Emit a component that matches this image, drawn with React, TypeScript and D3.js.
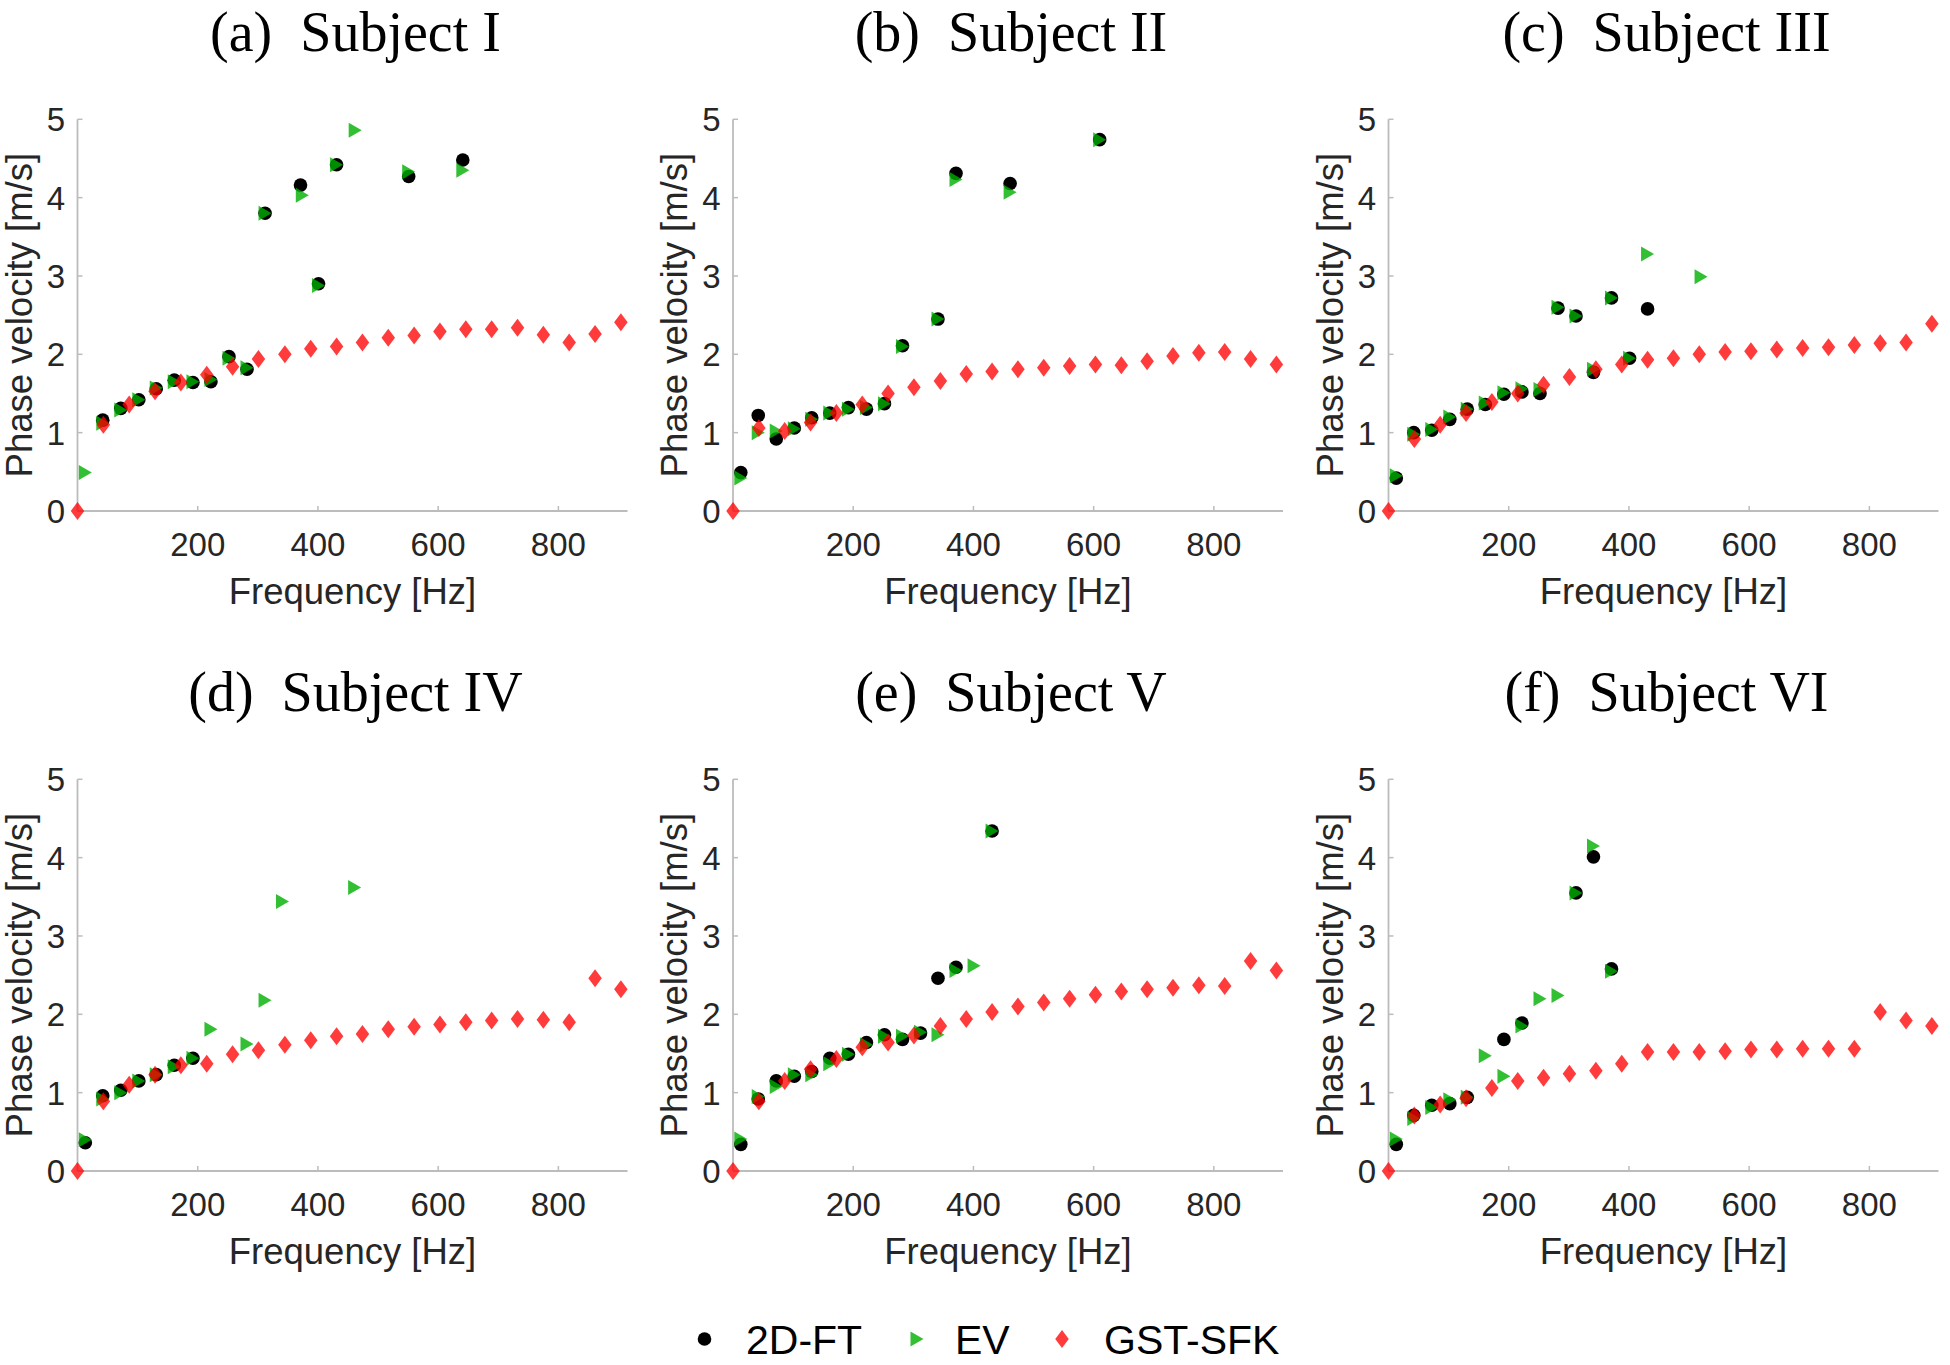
import React from 'react';
import * as d3 from 'd3';

const WIDTH = 1950;
const HEIGHT = 1365;

// panel geometry (axes origin + size)
const COL_X = [77.5, 733, 1388.5];
const ROW_Y = [119.3, 779.3];
const PW = 550;
const PH = 391.7;

const X_TICKS = [200, 400, 600, 800];
const Y_TICKS = [0, 1, 2, 3, 4, 5];

const TITLES = ['(a)  Subject I', '(b)  Subject II', '(c)  Subject III', '(d)  Subject IV', '(e)  Subject V', '(f)  Subject VI'];

// GST-SFK frequency bins (Hz)
const GST_F = [0, 43, 86, 129, 172, 215, 258, 301, 345, 388, 431, 474, 517, 560, 603, 646, 689, 732, 775, 818, 861, 904];

// subject I
const A_FT_F = [42, 72, 102, 131, 161, 192, 222, 252, 282, 312, 371, 401, 431, 551, 641];
const A_FT_V = [1.16, 1.31, 1.42, 1.56, 1.67, 1.64, 1.65, 1.97, 1.81, 3.8, 4.16, 2.9, 4.42, 4.27, 4.48];
const A_EV_F = [13, 42, 72, 102, 131, 161, 192, 222, 252, 282, 312, 374, 401, 431, 462, 551, 641];
const A_EV_V = [0.49, 1.12, 1.29, 1.42, 1.57, 1.65, 1.65, 1.68, 1.95, 1.83, 3.8, 4.03, 2.88, 4.42, 4.86, 4.33, 4.35];
const A_GST = [0, 1.1, 1.36, 1.53, 1.64, 1.74, 1.84, 1.94, 2.0, 2.07, 2.1, 2.15, 2.21, 2.24, 2.29, 2.32, 2.32, 2.34, 2.25, 2.15, 2.26, 2.41];

// subject II
const B_FT_F = [13, 42, 72, 102, 131, 161, 192, 222, 252, 282, 341, 371, 461, 610];
const B_FT_V = [0.49, 1.22, 0.92, 1.06, 1.19, 1.25, 1.32, 1.3, 1.37, 2.11, 2.45, 4.31, 4.18, 4.74];
const B_EV_F = [13, 42, 72, 102, 131, 161, 192, 222, 252, 282, 341, 371, 461, 610];
const B_EV_V = [0.42, 1.0, 1.02, 1.05, 1.17, 1.25, 1.3, 1.32, 1.37, 2.1, 2.45, 4.23, 4.07, 4.74];
const B_GST = [0, 1.06, 1.02, 1.13, 1.25, 1.36, 1.5, 1.58, 1.66, 1.75, 1.78, 1.81, 1.83, 1.85, 1.87, 1.86, 1.91, 1.98, 2.02, 2.03, 1.94, 1.87];

// subject III
const C_FT_F = [13, 42, 72, 102, 131, 161, 192, 222, 252, 282, 312, 341, 371, 401, 431];
const C_FT_V = [0.42, 1.0, 1.03, 1.17, 1.3, 1.36, 1.49, 1.52, 1.5, 2.59, 2.49, 1.77, 2.72, 1.95, 2.58];
const C_EV_F = [13, 42, 72, 102, 131, 161, 192, 222, 252, 282, 312, 341, 371, 401, 431, 520];
const C_EV_V = [0.45, 0.98, 1.04, 1.2, 1.3, 1.38, 1.51, 1.56, 1.55, 2.6, 2.49, 1.81, 2.72, 1.95, 3.28, 2.99];
const C_GST = [0, 0.92, 1.1, 1.25, 1.39, 1.5, 1.61, 1.71, 1.81, 1.87, 1.93, 1.95, 2.0, 2.03, 2.04, 2.06, 2.08, 2.09, 2.12, 2.14, 2.15, 2.39];

// subject IV
const D_FT_F = [13, 42, 72, 102, 131, 161, 192];
const D_FT_V = [0.36, 0.96, 1.03, 1.15, 1.23, 1.35, 1.44];
const D_EV_F = [13, 42, 72, 102, 131, 161, 192, 222, 282, 312, 341, 461];
const D_EV_V = [0.4, 0.92, 1.0, 1.15, 1.23, 1.33, 1.44, 1.81, 1.62, 2.18, 3.44, 3.62];
const D_GST = [0, 0.89, 1.1, 1.23, 1.35, 1.37, 1.49, 1.54, 1.61, 1.67, 1.72, 1.75, 1.81, 1.84, 1.87, 1.9, 1.92, 1.94, 1.93, 1.9, 2.46, 2.32];

// subject V
const E_FT_F = [13, 42, 72, 102, 131, 161, 192, 222, 252, 282, 312, 341, 371, 431];
const E_FT_V = [0.34, 0.92, 1.15, 1.21, 1.27, 1.44, 1.49, 1.64, 1.74, 1.68, 1.76, 2.46, 2.6, 4.34];
const E_EV_F = [13, 42, 72, 102, 131, 161, 192, 222, 252, 282, 312, 341, 371, 401, 431];
const E_EV_V = [0.41, 0.95, 1.08, 1.23, 1.23, 1.37, 1.49, 1.61, 1.72, 1.72, 1.77, 1.74, 2.56, 2.62, 4.34];
const E_GST = [0, 0.89, 1.15, 1.3, 1.43, 1.58, 1.64, 1.73, 1.85, 1.94, 2.03, 2.1, 2.15, 2.2, 2.25, 2.29, 2.32, 2.34, 2.37, 2.36, 2.68, 2.56];

// subject VI
const F_FT_F = [13, 42, 72, 102, 131, 192, 222, 312, 341, 371];
const F_FT_V = [0.34, 0.71, 0.84, 0.86, 0.94, 1.68, 1.89, 3.55, 4.01, 2.58];
const F_EV_F = [13, 42, 72, 102, 131, 161, 192, 222, 252, 282, 312, 341, 371];
const F_EV_V = [0.41, 0.67, 0.81, 0.91, 0.94, 1.47, 1.21, 1.85, 2.2, 2.24, 3.55, 4.15, 2.55];
const F_GST = [0, 0.71, 0.85, 0.93, 1.06, 1.15, 1.19, 1.24, 1.28, 1.37, 1.52, 1.52, 1.52, 1.53, 1.55, 1.55, 1.56, 1.56, 1.56, 2.03, 1.92, 1.85];

const PANELS = [
  { ftF: A_FT_F, ftV: A_FT_V, evF: A_EV_F, evV: A_EV_V, gst: A_GST },
  { ftF: B_FT_F, ftV: B_FT_V, evF: B_EV_F, evV: B_EV_V, gst: B_GST },
  { ftF: C_FT_F, ftV: C_FT_V, evF: C_EV_F, evV: C_EV_V, gst: C_GST },
  { ftF: D_FT_F, ftV: D_FT_V, evF: D_EV_F, evV: D_EV_V, gst: D_GST },
  { ftF: E_FT_F, ftV: E_FT_V, evF: E_EV_F, evV: E_EV_V, gst: E_GST },
  { ftF: F_FT_F, ftV: F_FT_V, evF: F_EV_F, evV: F_EV_V, gst: F_GST },
];

const SANS = '"Liberation Sans", Arial, Helvetica, sans-serif';
const SERIF = '"Liberation Serif", "Times New Roman", serif';
const AXIS_COL = '#bcbcbc';
const TEXT_COL = '#262626';
const GREEN = '#00af00';
const RED = '#ff0000';

const DOT_R = 6.8;
const TRI_W = 13, TRI_H = 15;
const DIA_W = 13.5, DIA_H = 18;

const triPath = (x, y) => `M${x - TRI_W / 2},${y - TRI_H / 2}L${x + TRI_W / 2},${y}L${x - TRI_W / 2},${y + TRI_H / 2}Z`;
const diaPath = (x, y) => `M${x},${y - DIA_H / 2}L${x + DIA_W / 2},${y}L${x},${y + DIA_H / 2}L${x - DIA_W / 2},${y}Z`;

function Panel({ idx }) {
  const p = PANELS[idx];
  const ox = COL_X[idx % 3];
  const oy = ROW_Y[Math.floor(idx / 3)];
  const x = d3.scaleLinear().domain([0, 915]).range([ox, ox + PW]);
  const y = d3.scaleLinear().domain([0, 5]).range([oy + PH, oy]);
  const y0 = y(0);

  return (
    <g>
      <text x={ox + PW / 2 + 3} y={oy - 68} textAnchor="middle" fontFamily={SERIF} fontSize={56} fill="#000" style={{ whiteSpace: 'pre' }}>
        {TITLES[idx]}
      </text>
      {/* axes */}
      <line x1={ox} x2={ox} y1={y(5)} y2={y0} stroke={AXIS_COL} strokeWidth={1.8} />
      <line x1={ox} x2={x(915)} y1={y0} y2={y0} stroke={AXIS_COL} strokeWidth={1.8} />
      {X_TICKS.map((t) => (
        <g key={'x' + t}>
          <line x1={x(t)} x2={x(t)} y1={y0} y2={y0 - 5} stroke={AXIS_COL} strokeWidth={1.5} />
          <text x={x(t)} y={y0 + 45} textAnchor="middle" fontFamily={SANS} fontSize={33} fill={TEXT_COL}>
            {t}
          </text>
        </g>
      ))}
      {Y_TICKS.map((t) => (
        <g key={'y' + t}>
          <line x1={ox} x2={ox + 5} y1={y(t)} y2={y(t)} stroke={AXIS_COL} strokeWidth={1.5} />
          <text x={ox - 12.5} y={y(t)} dy="0.36em" textAnchor="end" fontFamily={SANS} fontSize={33} fill={TEXT_COL}>
            {t}
          </text>
        </g>
      ))}
      <text x={ox + PW / 2} y={y0 + 93} textAnchor="middle" fontFamily={SANS} fontSize={36.5} fill={TEXT_COL}>
        Frequency [Hz]
      </text>
      <text transform={`translate(${ox - 46},${(y(5) + y0) / 2}) rotate(-90)`} textAnchor="middle" fontFamily={SANS} fontSize={36.5} fill={TEXT_COL}>
        Phase velocity [m/s]
      </text>
      {/* data */}
      {p.ftF.map((f, i) => (
        <circle key={'ft' + i} cx={x(f)} cy={y(p.ftV[i])} r={DOT_R} fill="#000" />
      ))}
      {p.evF.map((f, i) => (
        <path key={'ev' + i} d={triPath(x(f), y(p.evV[i]))} fill={GREEN} fillOpacity={0.8} />
      ))}
      {GST_F.map((f, i) => (
        <path key={'g' + i} d={diaPath(x(f), y(p.gst[i]))} fill={RED} fillOpacity={0.77} />
      ))}
    </g>
  );
}

function Legend() {
  const cy = 1339;
  return (
    <g fontFamily={SANS} fontSize={41} fill="#000">
      <circle cx={704.5} cy={cy} r={DOT_R} fill="#000" />
      <text x={746} y={cy} dy="0.36em">2D-FT</text>
      <path d={triPath(917, cy)} fill={GREEN} fillOpacity={0.8} />
      <text x={955} y={cy} dy="0.36em">EV</text>
      <path d={diaPath(1062, cy)} fill={RED} fillOpacity={0.77} />
      <text x={1104} y={cy} dy="0.36em">GST-SFK</text>
    </g>
  );
}

export default function App() {
  return (
    <svg width={WIDTH} height={HEIGHT} style={{ position: 'absolute', left: 0, top: 0, background: '#fff' }}>
      <rect width={WIDTH} height={HEIGHT} fill="#fff" />
      {PANELS.map((_, i) => (
        <Panel key={i} idx={i} />
      ))}
      <Legend />
    </svg>
  );
}
